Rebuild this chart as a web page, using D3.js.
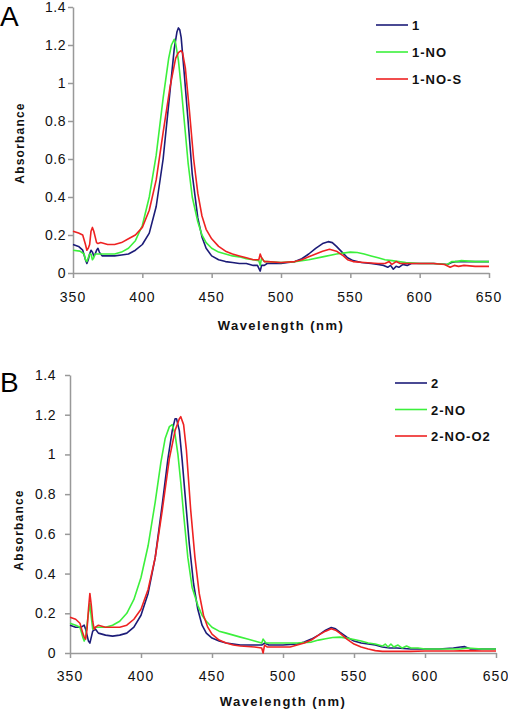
<!DOCTYPE html>
<html><head><meta charset="utf-8">
<script src="https://cdn.jsdelivr.net/npm/d3@7"></script>
<style>
html,body{margin:0;padding:0;background:#fff;}
svg{display:block;font-family:"Liberation Sans",Arial,sans-serif;}
</style></head>
<body>
<svg id="c" width="508" height="709"></svg>
<script>
// ---- data ----
const xTicks = [350,400,450,500,550,600,650];
const yTicks = [0,0.2,0.4,0.6,0.8,1,1.2,1.4];
const yTickLabels = ["0","0.2","0.4","0.6","0.8","1","1.2","1.4"];

const namesA = ["1","1-NO","1-NO-S"];
const namesB = ["2","2-NO","2-NO-O2"];
const colors = ["#1c1c78","#3cf03c","#ee2222"];

// Panel A
const a1 = [[350,0.15],[354,0.14],[357,0.12],[359,0.07],[360,0.05],[361,0.07],[362,0.1],[363,0.12],[364,0.11],[365,0.09],[366,0.1],[367,0.12],[368,0.13],[369,0.11],[371,0.09],[375,0.09],[380,0.09],[385,0.095],[390,0.1],[395,0.12],[400,0.15],[405,0.21],[410,0.35],[415,0.6],[420,0.96],[423,1.18],[425,1.27],[426,1.29],[427,1.28],[428,1.24],[430,1.07],[433,0.8],[436,0.52],[440,0.29],[443,0.19],[446,0.13],[450,0.09],[455,0.07],[460,0.06],[465,0.055],[470,0.05],[475,0.05],[480,0.04],[483,0.04],[485,0.01],[486,0.04],[488,0.04],[490,0.05],[495,0.05],[500,0.05],[505,0.055],[510,0.06],[515,0.075],[520,0.1],[525,0.13],[530,0.155],[534,0.165],[537,0.16],[540,0.14],[544,0.11],[548,0.08],[552,0.065],[558,0.055],[565,0.05],[570,0.045],[574,0.04],[577,0.03],[579,0.04],[581,0.02],[583,0.035],[585,0.03],[588,0.045],[591,0.04],[594,0.05],[600,0.05],[610,0.05],[620,0.045],[623,0.055],[626,0.06],[630,0.06],[640,0.06],[650,0.06]];
const a2 = [[350,0.12],[355,0.115],[358,0.1],[359,0.07],[360,0.06],[361,0.08],[362,0.1],[363,0.1],[364,0.07],[365,0.08],[366,0.1],[368,0.1],[372,0.1],[380,0.1],[385,0.11],[390,0.13],[395,0.17],[400,0.25],[405,0.4],[410,0.62],[415,0.92],[419,1.13],[421,1.2],[423,1.23],[424,1.21],[426,1.12],[428,0.98],[430,0.82],[433,0.58],[436,0.4],[440,0.27],[443,0.2],[446,0.16],[450,0.13],[455,0.11],[460,0.1],[465,0.09],[470,0.085],[475,0.075],[480,0.07],[484,0.065],[485,0.04],[486,0.08],[488,0.06],[490,0.06],[500,0.055],[510,0.06],[520,0.07],[530,0.085],[540,0.1],[550,0.11],[555,0.108],[560,0.1],[565,0.09],[570,0.08],[575,0.07],[580,0.065],[585,0.06],[590,0.055],[600,0.05],[610,0.05],[620,0.045],[623,0.06],[627,0.06],[630,0.065],[640,0.06],[650,0.06]];
const a3 = [[350,0.22],[354,0.21],[357,0.2],[359,0.15],[360,0.12],[361,0.13],[362,0.15],[363,0.22],[364,0.24],[365,0.22],[366,0.19],[367,0.16],[368,0.155],[370,0.16],[375,0.15],[380,0.15],[385,0.16],[390,0.18],[395,0.2],[400,0.24],[405,0.33],[410,0.49],[415,0.74],[420,0.98],[424,1.13],[426,1.16],[428,1.17],[429,1.16],[431,1.08],[434,0.85],[437,0.6],[440,0.42],[443,0.3],[446,0.23],[450,0.18],[455,0.14],[460,0.115],[465,0.1],[470,0.09],[475,0.08],[480,0.07],[484,0.07],[485,0.1],[486,0.08],[488,0.06],[490,0.06],[500,0.055],[510,0.06],[515,0.07],[520,0.085],[525,0.1],[530,0.115],[535,0.125],[540,0.115],[545,0.09],[548,0.07],[552,0.06],[560,0.055],[570,0.05],[575,0.05],[578,0.06],[580,0.045],[583,0.06],[586,0.05],[590,0.05],[600,0.05],[610,0.05],[618,0.045],[622,0.03],[625,0.04],[628,0.035],[632,0.04],[640,0.035],[650,0.035]];

// Panel B
const b1 = [[350,0.14],[354,0.13],[358,0.13],[360,0.14],[361,0.12],[362,0.09],[363,0.06],[364,0.05],[365,0.08],[366,0.11],[368,0.12],[370,0.1],[375,0.09],[380,0.085],[385,0.09],[390,0.1],[395,0.13],[400,0.19],[405,0.3],[410,0.48],[415,0.75],[419,0.98],[422,1.12],[424,1.18],[425,1.18],[427,1.12],[429,0.97],[431,0.8],[434,0.55],[437,0.35],[440,0.22],[443,0.14],[446,0.1],[450,0.075],[455,0.06],[460,0.05],[470,0.04],[480,0.04],[485,0.04],[487,0.05],[490,0.04],[500,0.04],[510,0.045],[515,0.055],[520,0.07],[525,0.09],[530,0.115],[534,0.128],[537,0.122],[540,0.105],[545,0.08],[550,0.06],[555,0.05],[560,0.045],[565,0.04],[570,0.03],[575,0.025],[580,0.025],[590,0.02],[600,0.02],[610,0.02],[620,0.025],[625,0.03],[628,0.032],[632,0.02],[640,0.02],[650,0.02]];
const b2 = [[350,0.15],[354,0.14],[357,0.13],[359,0.08],[360,0.06],[361,0.08],[362,0.14],[363,0.2],[364,0.25],[365,0.18],[366,0.12],[368,0.13],[370,0.13],[375,0.13],[380,0.14],[385,0.16],[390,0.2],[395,0.27],[400,0.38],[405,0.54],[410,0.76],[414,0.96],[417,1.08],[420,1.14],[422,1.15],[424,1.1],[426,1.0],[428,0.86],[430,0.7],[433,0.48],[436,0.33],[440,0.24],[443,0.19],[446,0.16],[450,0.13],[455,0.11],[460,0.1],[465,0.09],[470,0.08],[475,0.07],[480,0.06],[485,0.05],[486,0.07],[488,0.05],[490,0.05],[500,0.05],[510,0.05],[520,0.055],[525,0.065],[530,0.072],[535,0.078],[540,0.08],[545,0.075],[550,0.068],[555,0.06],[560,0.05],[565,0.045],[570,0.035],[572,0.045],[574,0.03],[576,0.045],[578,0.03],[581,0.04],[584,0.025],[587,0.035],[590,0.025],[595,0.025],[600,0.02],[610,0.02],[620,0.02],[625,0.02],[630,0.025],[640,0.02],[650,0.02]];
const b3 = [[350,0.18],[354,0.17],[357,0.15],[359,0.1],[360,0.08],[361,0.07],[362,0.12],[363,0.22],[364,0.3],[365,0.24],[366,0.16],[367,0.12],[368,0.13],[370,0.14],[375,0.13],[380,0.13],[385,0.13],[390,0.14],[395,0.17],[400,0.22],[405,0.32],[410,0.48],[415,0.72],[420,0.98],[424,1.12],[427,1.18],[428,1.19],[430,1.15],[432,1.02],[435,0.72],[438,0.48],[441,0.3],[444,0.19],[447,0.13],[450,0.095],[455,0.065],[460,0.05],[465,0.04],[470,0.035],[480,0.03],[485,0.025],[486,0.0],[487,0.04],[489,0.03],[495,0.03],[500,0.03],[505,0.03],[510,0.04],[515,0.05],[520,0.065],[525,0.09],[530,0.11],[534,0.122],[537,0.115],[540,0.1],[545,0.07],[550,0.045],[555,0.03],[560,0.02],[565,0.012],[570,0.008],[580,0.008],[590,0.008],[600,0.01],[610,0.01],[620,0.01],[630,0.012],[640,0.01],[650,0.01]];

// ---- layout ----
const svg = d3.select("#c");
const panels = [
  {letter:"A", letterY:26, x0:73, x1:489, y0:273, y1:7, series:[a1,a2,a3], names:namesA,
   legX:376, legY:25, legW:32, legGap:27, yLabX:66, yTitleX:20, yTitleY:143, xLabY:302, xTitleY:330},
  {letter:"B", letterY:392, x0:70, x1:496, y0:653, y1:375, series:[b1,b2,b3], names:namesB,
   legX:395, legY:383, legW:32, legGap:26.5, yLabX:56, yTitleX:19, yTitleY:530, xLabY:681, xTitleY:706}
];

panels.forEach(p => {
  const x = d3.scaleLinear().domain([350,650]).range([p.x0,p.x1]);
  const y = d3.scaleLinear().domain([0,1.4]).range([p.y0,p.y1]);
  const g = svg.append("g");

  // letter
  g.append("text").attr("x",0).attr("y",p.letterY).attr("font-size",28)
    .attr("fill","#000").text(p.letter);

  // axes
  const xa = g.append("g").attr("transform",`translate(0,${p.y0})`)
    .call(d3.axisBottom(x).tickValues(xTicks).tickSize(5).tickSizeOuter(0).tickFormat(""));
  const ya = g.append("g").attr("transform",`translate(${p.x0},0)`)
    .call(d3.axisLeft(y).tickValues(yTicks).tickSize(5).tickSizeOuter(0).tickFormat(""));
  [xa,ya].forEach(a=>{
    a.select(".domain").attr("stroke","#999").attr("stroke-width",1.5);
    a.selectAll(".tick line").attr("stroke","#999").attr("stroke-width",1.5);
  });

  // tick labels
  g.selectAll(".xl").data(xTicks).enter().append("text")
    .attr("x",d=>x(d)).attr("y",p.xLabY).attr("text-anchor","middle")
    .attr("font-size",14).attr("letter-spacing",1).attr("fill","#111").text(d=>d);
  g.selectAll(".yl").data(yTicks).enter().append("text")
    .attr("x",p.yLabX).attr("y",d=>y(d)+5).attr("text-anchor","end")
    .attr("font-size",14).attr("letter-spacing",0.5).attr("fill","#111")
    .text((d,i)=>yTickLabels[i]);

  // titles
  g.append("text").attr("x",(p.x0+p.x1)/2).attr("y",p.xTitleY).attr("text-anchor","middle")
    .attr("font-size",13).attr("font-weight","bold").attr("letter-spacing",1.5).attr("fill","#111")
    .text("Wavelength (nm)");
  g.append("text").attr("transform",`translate(${p.yTitleX+4},${p.yTitleY}) rotate(-90)`)
    .attr("text-anchor","middle").attr("font-size",12).attr("font-weight","bold")
    .attr("letter-spacing",1.2).attr("fill","#111").text("Absorbance");

  // lines
  const line = d3.line().x(d=>x(d[0])).y(d=>y(d[1]));
  p.series.forEach((s,i)=>{
    g.append("path").datum(s).attr("d",line).attr("fill","none")
      .attr("stroke",colors[i]).attr("stroke-width",1.6).attr("stroke-linejoin","round");
  });

  // legend
  p.names.forEach((n,i)=>{
    const ly = p.legY + i*p.legGap;
    g.append("line").attr("x1",p.legX).attr("x2",p.legX+p.legW).attr("y1",ly).attr("y2",ly)
      .attr("stroke",colors[i]).attr("stroke-width",1.6);
    g.append("text").attr("x",p.legX+p.legW+4).attr("y",ly+5)
      .attr("font-size",13).attr("font-weight","bold").attr("letter-spacing",1).attr("fill","#111").text(n);
  });
});
</script>
</body></html>
